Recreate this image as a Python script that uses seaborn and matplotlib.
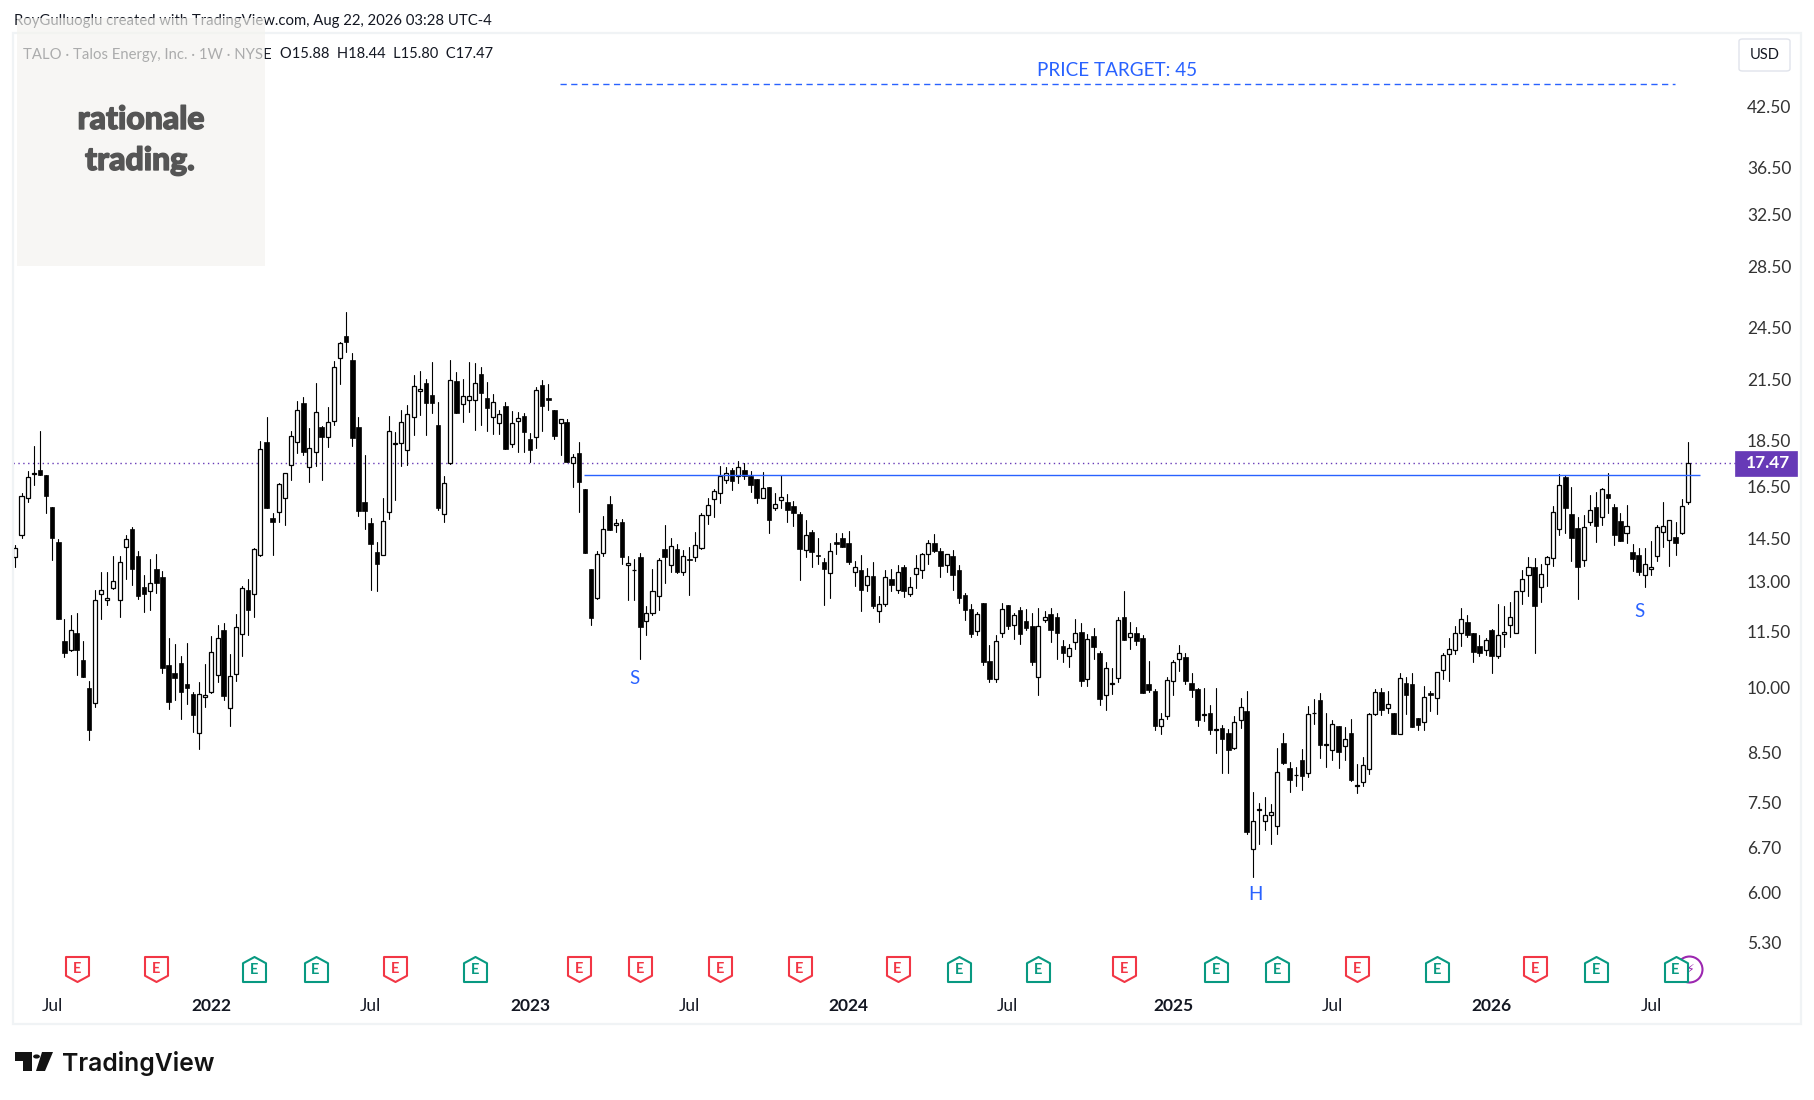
import numpy as np
import pandas as pd
import seaborn as sns
import matplotlib.pyplot as plt
import matplotlib.patheffects as pe
from matplotlib.path import Path
from matplotlib.patches import Rectangle, Polygon, Circle, FancyBboxPatch

FIG_W = 1814
FIG_H = 1100

highs = [14.24, 16.22, 17.15, 18.24, 18.95, 16.97, 15.66, 14.46, 11.85, 11.97,
         12.03, 11.22, 10.16, 12.75, 13.33, 13.33, 13.88, 13.87, 14.61, 14.90,
         14.04, 13.23, 13.77, 13.94, 13.37, 11.30, 11.14, 10.80, 11.17, 9.87,
         10.12, 10.60, 11.37, 11.68, 11.73, 10.87, 11.99, 12.87, 13.09, 14.13,
         18.48, 19.62, 15.43, 16.63, 17.05, 18.95, 20.42, 20.63, 19.09, 21.35,
         19.17, 20.11, 22.56, 23.64, 25.45, 22.99, 19.62, 17.85, 15.25, 14.36,
         16.04, 19.66, 18.89, 19.96, 20.20, 21.78, 22.00, 21.57, 22.50, 20.37,
         16.92, 22.61, 21.93, 21.55, 22.50, 22.43, 22.20, 21.40, 20.78, 19.96,
         20.37, 19.91, 19.84, 19.79, 18.84, 21.12, 21.50, 21.29, 19.94, 19.49,
         19.51, 17.89, 18.40, 16.38, 13.43, 14.04, 15.32, 16.12, 15.20, 15.21,
         13.87, 13.77, 13.98, 12.25, 13.43, 13.79, 14.99, 14.52, 14.29, 14.07,
         14.18, 14.73, 15.42, 16.02, 16.38, 17.35, 17.33, 17.27, 17.57, 17.48,
         17.14, 16.79, 17.11, 16.48, 16.24, 16.97, 16.20, 15.92, 15.47, 15.17,
         14.80, 14.51, 13.81, 14.33, 14.70, 14.69, 14.77, 13.70, 13.90, 13.46,
         13.67, 12.56, 13.38, 13.43, 13.57, 13.57, 13.16, 13.91, 13.98, 14.44,
         14.66, 14.14, 13.94, 14.08, 13.57, 12.64, 12.31, 12.06, 12.34, 11.11,
         11.40, 12.34, 12.28, 12.03, 12.22, 12.16, 12.04, 12.19, 12.09, 12.19,
         12.03, 11.25, 11.14, 11.86, 11.74, 11.42, 11.60, 10.95, 10.65, 10.48,
         11.91, 12.72, 11.77, 11.63, 11.40, 10.68, 9.96, 9.38, 10.26, 10.71,
         11.11, 10.89, 10.35, 9.99, 9.99, 9.57, 9.99, 9.11, 9.02, 9.31,
         9.74, 9.91, 7.71, 7.49, 7.61, 7.48, 8.59, 8.93, 8.31, 8.19,
         8.57, 9.55, 9.72, 9.86, 9.37, 9.22, 9.09, 9.06, 9.24, 8.25,
         8.40, 9.37, 9.96, 9.99, 9.91, 9.37, 10.36, 10.27, 10.36, 9.26,
         10.03, 9.90, 10.39, 10.88, 11.30, 11.66, 12.19, 11.97, 11.45, 11.40,
         11.30, 11.57, 12.31, 12.23, 12.37, 12.72, 13.40, 13.84, 13.81, 13.59,
         13.87, 15.70, 17.00, 16.98, 16.48, 15.27, 15.35, 16.16, 16.28, 16.41,
         17.05, 15.78, 15.42, 15.76, 14.29, 14.14, 14.16, 14.40, 14.99, 15.87,
         15.16, 15.10, 16.00, 18.44]
lows = [13.48, 14.52, 15.85, 16.57, 16.97, 15.45, 13.72, 11.84, 10.79, 10.95,
        10.31, 10.27, 8.76, 9.51, 11.86, 12.28, 12.76, 11.90, 13.11, 12.91,
        12.45, 12.07, 12.12, 12.66, 10.35, 9.48, 9.68, 9.25, 9.60, 8.94,
        8.58, 9.53, 9.86, 10.14, 9.68, 9.09, 10.16, 10.81, 11.38, 11.90,
        13.88, 15.62, 13.91, 15.08, 14.97, 16.76, 17.91, 17.85, 16.69, 17.35,
        16.76, 18.21, 19.24, 21.26, 23.03, 18.26, 15.32, 14.85, 12.73, 12.70,
        13.90, 15.22, 15.96, 17.37, 17.40, 18.74, 19.71, 18.74, 19.81, 15.55,
        15.08, 17.46, 19.81, 19.38, 19.86, 19.00, 19.24, 18.95, 18.81, 18.81,
        18.12, 18.21, 17.95, 17.98, 17.53, 18.17, 18.91, 19.96, 18.54, 17.85,
        17.53, 16.45, 15.48, 13.96, 11.68, 12.46, 13.85, 14.78, 14.71, 13.61,
        12.44, 12.42, 10.72, 11.38, 11.96, 12.12, 12.97, 13.33, 13.30, 13.21,
        12.57, 13.70, 14.12, 15.00, 15.28, 15.81, 16.65, 16.36, 16.65, 16.82,
        16.25, 15.81, 16.01, 14.67, 15.55, 15.63, 15.10, 14.96, 13.07, 13.82,
        13.48, 13.61, 12.26, 12.48, 13.94, 14.18, 13.61, 12.88, 12.10, 12.70,
        12.17, 11.75, 12.23, 12.72, 12.66, 12.51, 12.55, 12.81, 13.13, 13.60,
        13.99, 13.16, 13.33, 12.75, 12.35, 11.83, 11.32, 11.39, 10.56, 10.14,
        10.12, 11.32, 11.56, 11.29, 11.15, 11.52, 10.56, 9.82, 11.75, 11.20,
        10.72, 10.66, 10.51, 11.01, 10.02, 10.02, 10.73, 9.56, 9.46, 9.84,
        10.14, 11.25, 11.01, 11.12, 9.85, 9.87, 9.00, 8.89, 9.25, 9.82,
        10.40, 10.09, 9.76, 9.07, 9.19, 8.89, 8.48, 8.07, 8.07, 8.58,
        9.03, 6.93, 6.23, 6.77, 7.01, 6.77, 6.93, 8.25, 7.70, 7.82,
        7.75, 7.99, 9.13, 8.38, 8.19, 8.35, 8.17, 8.34, 7.91, 7.68,
        7.81, 8.05, 9.34, 9.34, 9.37, 8.91, 8.89, 9.35, 9.05, 8.98,
        8.98, 9.43, 9.36, 10.20, 10.16, 10.85, 11.08, 11.32, 10.66, 10.80,
        10.84, 10.35, 10.76, 11.05, 11.32, 11.44, 12.31, 12.54, 10.88, 12.37,
        12.88, 13.51, 14.63, 14.67, 13.70, 12.47, 13.51, 14.98, 14.36, 14.99,
        15.43, 14.26, 14.40, 14.34, 13.37, 13.21, 12.85, 13.21, 13.68, 14.18,
        13.51, 13.91, 14.66, 15.80]
opens = [13.83, 14.60, 16.02, 17.03, 17.16, 16.95, 15.66, 14.36, 11.21, 10.96,
         11.44, 10.70, 9.98, 9.61, 12.61, 12.43, 12.80, 12.43, 14.19, 14.83,
         13.86, 12.83, 12.71, 13.42, 13.15, 10.57, 10.36, 10.62, 10.07, 9.83,
         8.92, 9.75, 9.87, 10.32, 11.53, 9.49, 10.33, 11.41, 12.74, 12.61,
         13.90, 18.40, 15.25, 15.49, 16.02, 17.38, 18.40, 20.30, 17.30, 17.96,
         19.14, 18.65, 19.39, 22.71, 24.01, 22.60, 19.14, 15.88, 15.06, 14.01,
         13.90, 15.49, 18.34, 18.37, 18.05, 19.60, 20.90, 21.33, 20.71, 19.24,
         15.38, 17.47, 21.43, 20.26, 20.45, 20.45, 21.83, 20.56, 19.60, 19.30,
         20.15, 18.32, 19.41, 19.66, 18.56, 18.65, 21.22, 20.57, 19.94, 19.32,
         19.36, 17.47, 17.92, 16.38, 13.43, 12.48, 13.97, 15.78, 14.97, 15.09,
         13.55, 13.38, 13.83, 11.79, 12.02, 12.55, 14.10, 13.56, 14.10, 13.34,
         13.76, 13.83, 14.16, 15.37, 15.98, 16.22, 16.75, 17.17, 16.91, 17.17,
         16.93, 16.79, 16.02, 16.48, 15.61, 15.93, 15.86, 15.70, 15.40, 14.09,
         14.71, 13.90, 13.66, 13.29, 14.36, 14.51, 14.33, 13.32, 13.39, 12.89,
         13.20, 12.08, 12.30, 13.09, 12.73, 13.50, 12.61, 13.27, 13.38, 13.93,
         14.33, 14.04, 13.55, 13.86, 13.40, 12.58, 12.14, 11.49, 12.34, 10.68,
         10.21, 11.44, 12.28, 11.68, 12.11, 11.79, 11.66, 10.25, 11.81, 12.00,
         11.91, 11.07, 10.80, 11.18, 11.48, 10.21, 11.37, 10.89, 9.82, 10.09,
         10.22, 11.91, 11.33, 11.45, 11.31, 10.07, 9.91, 9.08, 9.30, 10.16,
         10.72, 10.79, 10.10, 9.96, 9.34, 9.38, 9.00, 9.03, 8.93, 8.60,
         9.21, 9.42, 6.68, 7.37, 7.16, 7.28, 7.07, 8.70, 8.18, 8.03,
         8.34, 8.08, 9.37, 9.69, 8.67, 8.55, 9.08, 8.63, 8.92, 7.82,
         7.90, 8.15, 9.36, 9.88, 9.49, 9.37, 8.90, 10.10, 10.08, 9.26,
         9.16, 9.86, 9.73, 10.44, 10.86, 10.96, 11.44, 11.76, 11.44, 11.07,
         10.96, 11.54, 10.82, 11.42, 11.68, 11.46, 12.70, 13.21, 13.50, 12.83,
         13.59, 13.79, 14.83, 16.89, 15.38, 14.87, 13.73, 15.09, 15.66, 15.27,
         16.20, 15.66, 15.12, 14.68, 14.01, 13.90, 13.22, 13.42, 13.85, 14.71,
         14.43, 14.55, 14.68, 15.88]
closes = [14.16, 16.09, 16.88, 17.05, 16.98, 16.09, 14.52, 11.84, 10.90, 11.53,
          10.98, 10.27, 8.98, 12.42, 12.73, 12.49, 13.02, 13.66, 14.46, 13.42,
          12.54, 12.60, 12.96, 12.98, 10.48, 9.65, 10.24, 9.87, 9.99, 9.32,
          9.83, 9.81, 10.91, 11.30, 9.78, 10.29, 11.62, 12.80, 12.13, 14.10,
          18.09, 15.63, 15.11, 16.59, 17.04, 18.69, 19.94, 17.99, 18.14, 19.84,
          18.64, 19.36, 22.20, 23.56, 23.66, 18.59, 15.53, 15.53, 14.30, 13.58,
          15.12, 18.93, 18.37, 19.36, 19.74, 21.18, 21.02, 20.29, 20.29, 15.63,
          16.63, 21.48, 19.82, 20.64, 20.64, 21.33, 20.80, 20.03, 20.35, 19.73,
          18.12, 19.32, 19.54, 18.87, 18.08, 20.97, 20.13, 20.44, 18.68, 19.49,
          17.54, 17.76, 16.67, 13.98, 11.87, 13.92, 14.83, 14.78, 15.05, 13.82,
          13.62, 13.39, 11.61, 12.04, 12.71, 13.73, 13.82, 14.20, 13.31, 13.86,
          13.72, 14.24, 15.35, 15.74, 16.30, 16.92, 17.04, 16.73, 17.30, 16.91,
          16.53, 16.01, 16.43, 15.15, 15.77, 16.05, 15.57, 15.44, 14.12, 14.61,
          13.99, 13.85, 13.41, 14.03, 14.30, 14.19, 13.67, 13.49, 12.73, 13.18,
          12.23, 12.30, 13.15, 12.91, 13.32, 12.70, 12.83, 13.45, 13.93, 14.31,
          14.05, 13.51, 13.93, 13.24, 12.48, 12.13, 11.41, 11.99, 10.64, 10.21,
          11.21, 12.14, 11.64, 11.96, 11.41, 11.58, 10.66, 11.65, 11.90, 11.54,
          11.46, 10.90, 11.02, 11.44, 10.16, 11.27, 11.06, 9.70, 10.49, 10.10,
          11.82, 11.26, 11.44, 11.23, 9.86, 9.94, 9.09, 9.23, 10.17, 10.65,
          10.88, 10.16, 9.93, 9.21, 9.35, 9.00, 9.00, 8.80, 8.56, 9.17,
          9.52, 6.98, 7.16, 7.38, 7.28, 7.32, 8.10, 8.29, 7.93, 8.04,
          8.01, 9.35, 9.38, 8.67, 8.67, 9.12, 8.50, 8.78, 7.93, 7.82,
          8.24, 9.36, 9.88, 9.46, 9.58, 8.91, 10.22, 9.82, 9.05, 9.11,
          9.76, 9.80, 10.38, 10.83, 10.99, 11.44, 11.85, 11.38, 10.91, 10.88,
          11.24, 10.82, 11.39, 11.47, 11.90, 12.71, 13.11, 13.49, 12.23, 13.25,
          13.83, 15.46, 16.55, 15.61, 14.52, 13.48, 14.90, 15.54, 14.96, 16.38,
          16.01, 14.63, 14.41, 14.93, 13.75, 13.31, 13.59, 13.49, 14.90, 14.93,
          15.16, 14.34, 15.72, 17.47]

first_week = "2021-05-24"
date_ticks = ["2021-07-05", "2022-01-03", "2022-07-04", "2023-01-02", "2023-07-03", "2024-01-01",
              "2024-07-01", "2025-01-06", "2025-07-07", "2026-01-05", "2026-07-06"]
date_labels = ["Jul", "2022", "Jul", "2023", "Jul", "2024", "Jul", "2025", "Jul", "2026", "Jul"]
price_ticks = [42.5, 36.5, 32.5, 28.5, 24.5, 21.5, 18.5, 16.5, 14.5, 13.0, 11.5, 10.0, 8.5, 7.5, 6.7, 6.0, 5.3]

earnings_miss = [10, 23, 62, 92, 102, 115, 128, 144, 181, 219, 248]
earnings_beat = [39, 49, 75, 154, 167, 196, 206, 232, 258, 271]
last_close = 17.47
neckline = 16.95
target = 45

BLACK = "#000000"
BLUE = "#2962ff"
PURPLE = "#673ab7"
RED = "#f23645"
GREEN = "#089981"
GREY = "#f0f3f5"
FONT = ["Lato", "DejaVu Sans"]

sns.set_theme(style="white")
plt.rcParams["font.family"] = FONT


def fx(x):
    return x / FIG_W


def fy(y):
    return 1 - y / FIG_H


def main():
    dates = pd.date_range(first_week, periods=len(closes), freq="7D")
    week = np.arange(len(closes))
    o = np.array(opens)
    c = np.array(closes)

    fig = plt.figure(figsize=(FIG_W / 100, FIG_H / 100), dpi=100, facecolor="white")
    ax = fig.add_axes([fx(13), fy(992), (1738 - 13) / FIG_W, (992 - 33.5) / FIG_H])
    ax.set_yscale("log")

    # wicks
    wicks = pd.DataFrame({
        "week": np.concatenate([week, week]),
        "price": highs + lows,
    })
    sns.lineplot(data=wicks, x="week", y="price", units="week", estimator=None,
                 color=BLACK, lw=0.8, ax=ax, zorder=2)

    up = c >= o
    ax.bar(week[~up], (o - c)[~up], bottom=c[~up], width=0.74, color=BLACK, edgecolor=BLACK, lw=0.5, zorder=3)
    ax.bar(week[up], np.maximum((c - o)[up], 0.01), bottom=o[up], width=0.66, color="white", edgecolor=BLACK, lw=0.9, zorder=3)

    ax.axhline(last_close, color=PURPLE, ls=(0, (1, 2.5)), lw=1.0, zorder=1)
    ax.hlines(neckline, 92.8, 275, color=BLUE, lw=1.0, zorder=4)
    ax.hlines(target, 88.9, 270.9, color=BLUE, lw=1.0, ls=(0, (4.5, 3.2)), zorder=4)

    ax.text(179.8, 46.5, f"PRICE TARGET: {target}", color=BLUE, fontsize=13.6, ha="center", va="center")
    ax.text(101, 10.21, "S", color=BLUE, fontsize=13.5, ha="center", va="center")
    ax.text(202.4, 5.96, "H", color=BLUE, fontsize=13.5, ha="center", va="center")
    ax.text(265.1, 12.08, "S", color=BLUE, fontsize=13.5, ha="center", va="center")

    # earnings flags, drawn at the bottom of the pane
    level = 4.96
    ax.scatter([273.2], [level], s=350, facecolor="white", edgecolor="#9c27b0", lw=1.5, zorder=5)
    ax.text(273.4, level, "\u26a1", color="#9c27b0", fontsize=9, ha="center", va="center",
            family="DejaVu Sans", zorder=5)
    house_up = Path([(-0.92, -1), (0.92, -1), (0.92, 0.5), (0, 1), (-0.92, 0.5), (-0.92, -1)], closed=True)
    house_down = Path([(-0.92, 1), (0.92, 1), (0.92, -0.5), (0, -1), (-0.92, -0.5), (-0.92, 1)], closed=True)
    for weeks, path, col, shift in [(earnings_miss, house_down, RED, 1.0), (earnings_beat, house_up, GREEN, 0.996)]:
        sns.scatterplot(x=weeks, y=[level] * len(weeks), marker=path, s=324, color="white",
                        edgecolor=col, linewidth=1.5, ax=ax, zorder=6, legend=False)
        for w in weeks:
            ax.text(w, level * shift, "E", color=col, fontsize=10.5, fontweight="bold", ha="center", va="center", zorder=7)

    ax.set_xlim(-0.39, 281.2)
    ax.set_ylim(4.68, 50.97)
    ax.set_xlabel("")
    ax.set_ylabel("")

    ax.set_xticks(dates.searchsorted(pd.to_datetime(date_ticks)))
    ax.set_xticklabels(date_labels)
    for lab in ax.get_xticklabels():
        if lab.get_text() != "Jul":
            lab.set_fontweight("bold")
    ax.yaxis.set_major_locator(plt.FixedLocator(price_ticks))
    ax.yaxis.set_minor_locator(plt.NullLocator())
    ax.yaxis.set_major_formatter(plt.FormatStrFormatter("%.2f"))
    ax.tick_params(axis="x", length=0, pad=4, labelsize=12.5, labelcolor="#131722")
    ax.tick_params(axis="y", length=0, pad=6.5, labelsize=12.5, labelcolor="#333333",
                   left=False, labelleft=False, right=False, labelright=True)
    sns.despine(ax=ax, left=True, bottom=True)

    # pane frame and price box
    fig.add_artist(Rectangle((fx(13), fy(1024)), 1788 / FIG_W, 990.5 / FIG_H, fill=False, ec=GREY, lw=1.6))
    fig.add_artist(FancyBboxPatch((fx(1739), fy(71)), 51 / FIG_W, 32 / FIG_H, boxstyle="round,pad=0,rounding_size=0.002",
                                  fc="white", ec="#e0e3eb", lw=1.0))
    fig.text(fx(1764.5), fy(55), "USD", fontsize=10.5, color="#131722", ha="center", va="center")
    fig.add_artist(Rectangle((fx(1735), fy(476)), 62 / FIG_W, 25 / FIG_H, fc=PURPLE, ec=PURPLE, lw=0.5))
    fig.text(fx(1768), fy(463.5), f"{last_close:.2f}", color="white", fontsize=12.5, fontweight="bold",
             ha="center", va="center")

    # header lines
    fig.text(fx(14), fy(21), "RoyGulluoglu created with TradingView.com, Aug 22, 2026 03:28 UTC-4",
             fontsize=10.7, color="#131722", ha="left", va="center")
    fig.text(fx(23), fy(54.5), "TALO \u00b7 Talos Energy, Inc. \u00b7 1W \u00b7 NYSE",
             fontsize=10.7, color="#131722", ha="left", va="center")
    fig.text(fx(280), fy(54.5), f"O{opens[-1]:.2f}  H{highs[-1]:.2f}  L{lows[-1]:.2f}  C{closes[-1]:.2f}",
             fontsize=10.5, color="#131722", ha="left", va="center")

    # watermark card sits over the header text
    fig.add_artist(Rectangle((fx(17), fy(266)), 248 / FIG_W, 248 / FIG_H, fc="#f4f3ef", ec="none", alpha=0.68, zorder=4))
    thick = [pe.withStroke(linewidth=1.0, foreground="#555555")]
    fig.text(fx(141), fy(129), "rationale", fontsize=23, fontweight="black", color="#555555",
             ha="center", va="baseline", zorder=5, path_effects=thick)
    fig.text(fx(140), fy(170), "trading.", fontsize=23, fontweight="black", color="#555555",
             ha="center", va="baseline", zorder=5, path_effects=thick)

    # logo
    fig.add_artist(Polygon([(fx(15), fy(1052)), (fx(32), fy(1052)), (fx(32), fy(1071)), (fx(23), fy(1071)),
                            (fx(23), fy(1061)), (fx(15), fy(1061))], fc="#131313", ec="none"))
    fig.add_artist(Polygon([(fx(42), fy(1052)), (fx(53), fy(1052)), (fx(45), fy(1071)), (fx(36), fy(1071))],
                           fc="#131313", ec="none"))
    ax_dot = Circle((fx(36.5), fy(1056.5)), 3.4 / FIG_W, fc="#131313", ec="none")
    fig.add_artist(ax_dot)
    fig.text(fx(62), fy(1071), "TradingView", fontsize=17.8, fontweight="semibold", color="#131313",
             family=["Inter", "DejaVu Sans"], ha="left", va="baseline")

    fig.savefig("out.png", dpi=100)


if __name__ == '__main__':
    main()
